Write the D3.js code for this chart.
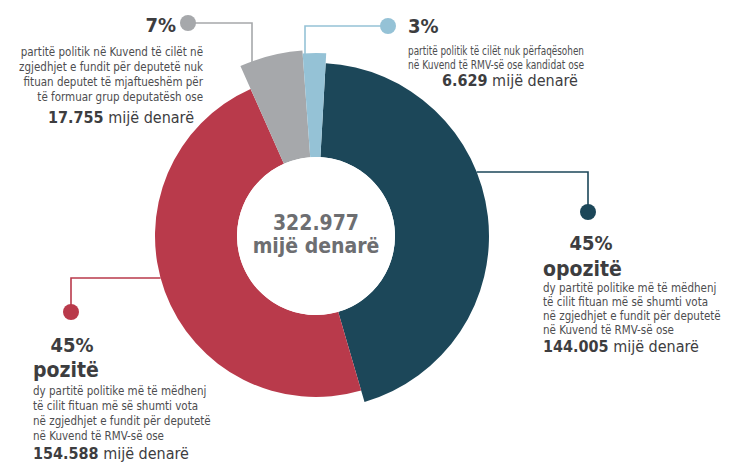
<!doctype html>
<html>
<head>
<meta charset="utf-8">
<script src="https://cdn.jsdelivr.net/npm/d3@7"></script>
<style>
  body { margin: 0; background: #fff; }
  svg { display: block; font-family: "DejaVu Sans Condensed", "DejaVu Sans", sans-serif; font-stretch: condensed; }
  .body { font-size: 11.5px; fill: #4d4d4f; }
  .pct { font-size: 20px; font-weight: bold; fill: #3d3d3f; }
  .name { font-size: 21px; font-weight: bold; fill: #3d3d3f; }
  .amount { font-size: 16px; fill: #3d3d3f; }
  .amount tspan.num { font-weight: bold; }
  .total { font-size: 21px; font-weight: bold; fill: #6d6e71; }
</style>
</head>
<body>
<svg width="733" height="464"></svg>
<script>
// values in thousand denars, drawn clockwise from the top
var names = ["opozitë", "pozitë", "parti në Kuvend", "parti jashtë Kuvendit"];
var values = [144.005, 154.588, 17.755, 6.629];
var amountLabels = ["144.005", "154.588", "17.755", "6.629"];
var pctLabels = ["45%", "45%", "7%", "3%"];
var totalLabel = "322.977";
var unitLabel = "mijë denarë";
var descriptions = [
  ["dy partitë politike më të mëdhenj", "të cilit fituan më së shumti vota", "në zgjedhjet e fundit për deputetë", "në Kuvend të RMV-së ose"],
  ["dy partitë politike më të mëdhenj", "të cilit fituan më së shumti vota", "në zgjedhjet e fundit për deputetë", "në Kuvend të RMV-së ose"],
  ["partitë politik në Kuvend të cilët në", "zgjedhjet e fundit për deputetë nuk", "fituan deputet të mjaftueshëm për", "të formuar grup deputatësh ose"],
  ["partitë politik të cilët nuk përfaqësohen", "në Kuvend të RMV-së ose kandidat ose"]
];

var colors = ["#1c4759", "#b93a4b", "#a6a8ab", "#95c2d6"];
var outerR = [173, 161, 186, 183];
var innerR = 79;
var cx = 316, cy = 236;

var svg = d3.select("svg");

var pie = d3.pie().sort(null).value(function(d) { return d; })
  .startAngle(3.2 * Math.PI / 180).endAngle(363.2 * Math.PI / 180);
var arcs = pie(values);

var g = svg.append("g").attr("transform", "translate(" + cx + "," + cy + ")");
g.selectAll("path.slice")
  .data(arcs)
  .enter().append("path")
  .attr("class", "slice")
  .attr("fill", function(d, i) { return colors[i]; })
  .attr("d", function(d, i) {
    return d3.arc().innerRadius(innerR).outerRadius(outerR[i])(d);
  });

g.append("circle").attr("r", innerR).attr("fill", "#fff");
g.append("text").attr("class", "total").attr("text-anchor", "middle").attr("y", -6).text(totalLabel);
g.append("text").attr("class", "total").attr("text-anchor", "middle").attr("y", 17).text(unitLabel);

// leader lines: dot position, elbow, and which way the line meets the slice
var leaders = [
  { dot: [588, 212], elbowY: 172, dir: "h", side: 1 },
  { dot: [71, 312], elbowY: 278, dir: "h", side: -1 },
  { dot: [188, 23], elbowX: 252, dir: "v" },
  { dot: [388, 26], elbowX: 305, dir: "v" }
];

leaders.forEach(function(l, i) {
  var r = outerR[i], pts;
  if (l.dir === "h") {
    var dy = l.elbowY - cy;
    var ex = cx + l.side * Math.sqrt(r * r - dy * dy);
    pts = [[ex, l.elbowY], [l.dot[0], l.elbowY], l.dot];
  } else {
    var dx = l.elbowX - cx;
    var ey = cy - Math.sqrt(r * r - dx * dx);
    pts = [[l.elbowX, ey + 1], [l.elbowX, l.dot[1]], l.dot];
  }
  svg.append("path")
    .attr("d", d3.line()(pts))
    .attr("fill", "none")
    .attr("stroke", colors[i])
    .attr("stroke-width", 1.6);
  svg.append("circle").attr("cx", l.dot[0]).attr("cy", l.dot[1]).attr("r", 8).attr("fill", colors[i]);
});

// squeeze a text to a given width when the font runs wide
function fit(sel, w) {
  sel.each(function() {
    if (this.getComputedTextLength() > w) {
      d3.select(this).attr("textLength", w).attr("lengthAdjust", "spacingAndGlyphs");
    }
  });
}

function amount(sel, i) {
  sel.append("tspan").attr("class", "num").text(amountLabels[i]);
  sel.append("tspan").text(" " + unitLabel);
}

// opozitë (right)
svg.append("text").attr("class", "pct").attr("x", 591).attr("y", 250).attr("text-anchor", "middle").text(pctLabels[0]);
svg.append("text").attr("class", "name").attr("x", 543).attr("y", 276).text(names[0]);
descriptions[0].forEach(function(t, k) {
  svg.append("text").attr("class", "body").attr("x", 543).attr("y", 292 + k * 14).text(t).call(fit, 184);
});
svg.append("text").attr("class", "amount").attr("x", 543).attr("y", 352).call(amount, 0);

// pozitë (left)
svg.append("text").attr("class", "pct").attr("x", 72).attr("y", 352).attr("text-anchor", "middle").text(pctLabels[1]);
svg.append("text").attr("class", "name").attr("x", 33).attr("y", 377).text(names[1]);
descriptions[1].forEach(function(t, k) {
  svg.append("text").attr("class", "body").attr("x", 33).attr("y", 395 + k * 15).text(t).call(fit, 186);
});
svg.append("text").attr("class", "amount").attr("x", 33).attr("y", 459).call(amount, 1);

// 7% (top left)
svg.append("text").attr("class", "pct").attr("x", 176).attr("y", 32).attr("text-anchor", "end").text(pctLabels[2]);
descriptions[2].forEach(function(t, k) {
  svg.append("text").attr("class", "body").attr("x", 203).attr("y", 56 + k * 15).attr("text-anchor", "end").text(t).call(fit, 192);
});
svg.append("text").attr("class", "amount").attr("x", 194).attr("y", 123).attr("text-anchor", "end").call(amount, 2);

// 3% (top right)
svg.append("text").attr("class", "pct").attr("x", 408).attr("y", 33).text(pctLabels[3]);
descriptions[3].forEach(function(t, k) {
  svg.append("text").attr("class", "body").attr("x", 408).attr("y", 55 + k * 14).text(t).call(fit, 176);
});
svg.append("text").attr("class", "amount").attr("x", 442).attr("y", 86).call(amount, 3);
</script>
</body>
</html>
